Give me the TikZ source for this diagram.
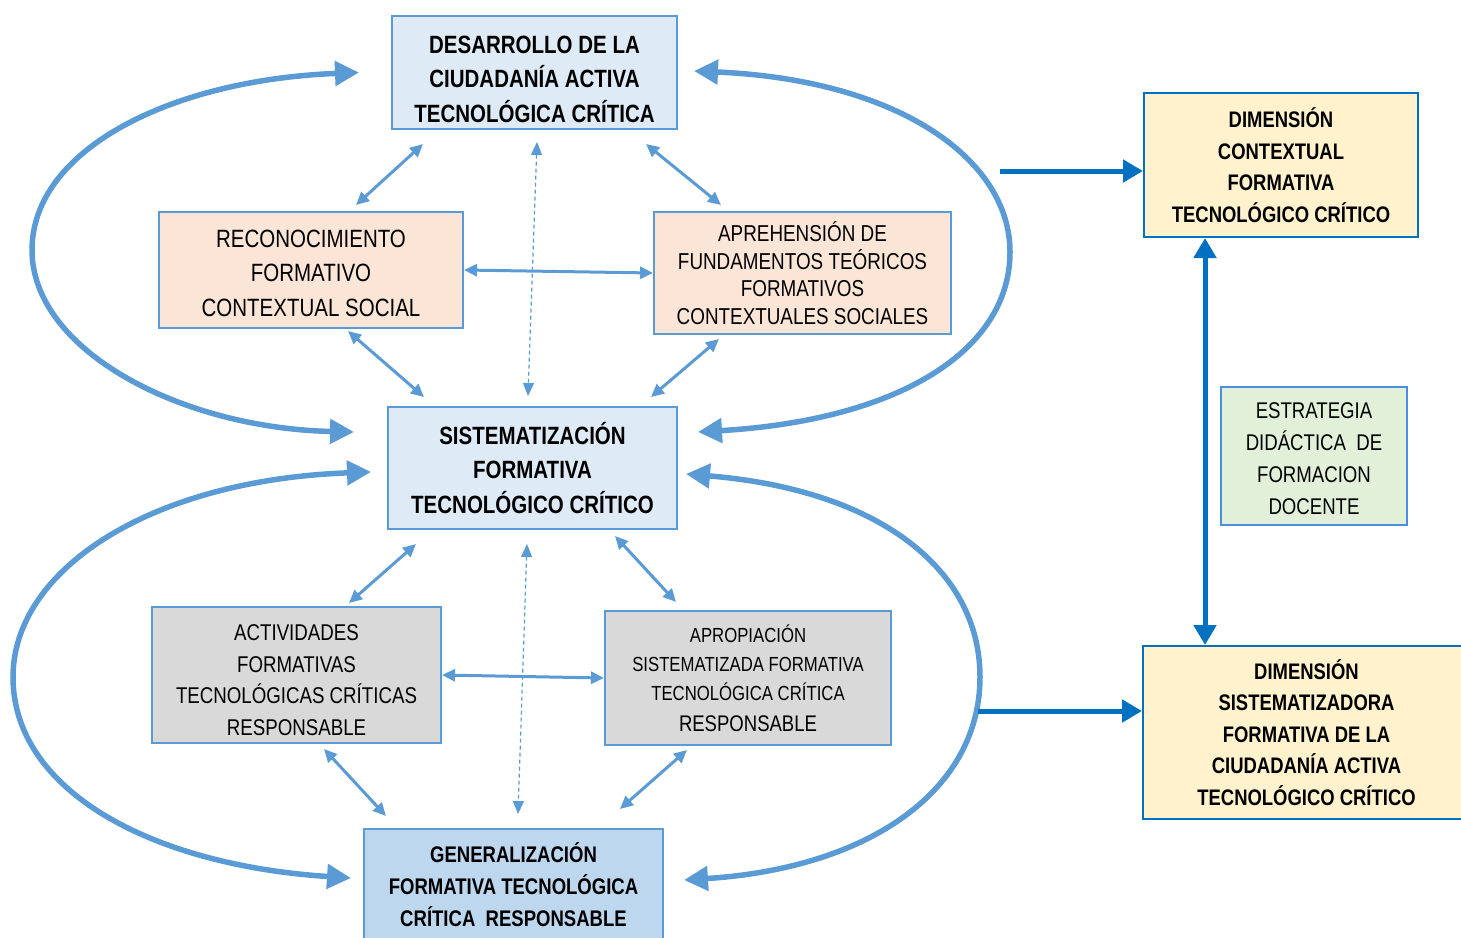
\documentclass[tikz,border=0pt]{standalone}
\usepackage{fontspec}
\newfontfamily\nar[FakeStretch=0.82]{Liberation Sans}
\usetikzlibrary{arrows.meta,calc}
\definecolor{bord}{HTML}{5B9BD5}
\definecolor{dark}{HTML}{0070C0}
\definecolor{lblue}{HTML}{DEEBF7}
\definecolor{mblue}{HTML}{BDD7EE}
\definecolor{peach}{HTML}{FBE5D6}
\definecolor{grayf}{HTML}{D9D9D9}
\definecolor{yel}{HTML}{FFF2CC}
\definecolor{grn}{HTML}{E2F0D9}
\definecolor{gbord}{HTML}{4A8FDB}
\newcommand\fs[2]{\fontsize{#1}{#2}\selectfont}
\tikzset{
  box/.style={draw=bord, line width=2pt, inner sep=0pt, align=center},
  dimbox/.style={draw=dark, line width=2pt, fill=yel, inner sep=0pt, align=center},
  thinarrow/.style={draw=bord, line width=3pt, {Triangle[length=13pt,width=12pt]}-{Triangle[length=13pt,width=12pt]}},
  dashln/.style={draw=bord, line width=1.2pt, dash pattern=on 4pt off 3pt, {Triangle[length=13pt,width=11pt]}-{Triangle[length=13pt,width=11pt]}},
  bigcurve/.style={draw=bord, line width=5.5pt, {Triangle[length=24pt,width=24pt]}-{Triangle[length=24pt,width=24pt]}},
  darkarrow/.style={draw=dark, line width=5pt, -{Triangle[length=20pt,width=22pt]}},
  darkboth/.style={draw=dark, line width=5pt, {Triangle[length=20pt,width=22pt]}-{Triangle[length=20pt,width=22pt]}},
}
\begin{document}
\begin{tikzpicture}[x=1pt,y=-1pt]
\useasboundingbox (0,0) rectangle (1461,937);
\clip (0,0) rectangle (1461,937);

% boxes
\node[box, fill=lblue, font={\nar\bfseries\fs{25}{34.5}}, minimum width=285pt, minimum height=113pt] (top) at (534.5,72.5)
  {\rule{0pt}{31pt}DESARROLLO DE LA\\ CIUDADANÍA ACTIVA\\ TECNOLÓGICA CRÍTICA};
\node[box, fill=peach, font={\nar\fs{25}{34.5}}, minimum width=304pt, minimum height=116pt] (recon) at (311,270)
  {\rule{0pt}{24pt}RECONOCIMIENTO\\ FORMATIVO\\ CONTEXTUAL SOCIAL};
\node[box, fill=peach, font={\nar\fs{23}{27.5}}, minimum width=297pt, minimum height=122pt] (apre) at (802.5,273)
  {APREHENSIÓN DE\\ FUNDAMENTOS TEÓRICOS\\ FORMATIVOS\\ CONTEXTUALES SOCIALES};
\node[box, fill=lblue, font={\nar\bfseries\fs{25}{34.5}}, minimum width=289pt, minimum height=122pt] (sist) at (532.5,468)
  {SISTEMATIZACIÓN\\ FORMATIVA\\ TECNOLÓGICO CRÍTICO};
\node[box, fill=grayf, font={\nar\fs{22.8}{31.7}}, minimum width=289pt, minimum height=136pt] (acti) at (296.5,675)
  {\rule{0pt}{26pt}ACTIVIDADES\\ FORMATIVAS\\ TECNOLÓGICAS CRÍTICAS\\ RESPONSABLE};
\node[box, fill=grayf, font={\nar\fs{20.4}{29}}, minimum width=286pt, minimum height=134pt] (apro) at (748,678)
  {APROPIACIÓN\\ SISTEMATIZADA FORMATIVA\\ TECNOLÓGICA CRÍTICA\\[2pt] {\fs{22.6}{29}RESPONSABLE}};
\node[box, fill=mblue, font={\nar\bfseries\fs{22.6}{32}}, minimum width=299pt, minimum height=112pt] (gen) at (513.5,885)
  {GENERALIZACIÓN\\ FORMATIVA TECNOLÓGICA\\ CRÍTICA\ \ RESPONSABLE};
\node[dimbox, font={\nar\bfseries\fs{22.5}{31.7}}, minimum width=274pt, minimum height=144pt] (dimc) at (1281,165)
  {DIMENSIÓN\\ CONTEXTUAL\\ FORMATIVA\\ TECNOLÓGICO CRÍTICO};
\node[box, draw=gbord, fill=grn, font={\nar\fs{22.7}{32}}, minimum width=186pt, minimum height=138pt] (estr) at (1314,456)
  {\rule{0pt}{22pt}ESTRATEGIA\\ DIDÁCTICA\ \ DE\\ FORMACION\\ DOCENTE};
\node[dimbox, font={\nar\bfseries\fs{22.5}{31.5}}, minimum width=327pt, minimum height=173pt] (dims) at (1306.5,732.5)
  {DIMENSIÓN\\ SISTEMATIZADORA\\ FORMATIVA DE LA\\ CIUDADANÍA ACTIVA\\ TECNOLÓGICO CRÍTICO};

% thin double arrows
\draw[thinarrow] ($(top.south west)+(32,14)$) -- ($(recon.north east)+(-108,-6)$);
\draw[thinarrow] ($(top.south east)+(-32,14)$) -- ($(apre.north west)+(68,-6)$);
\draw[thinarrow] (recon.east) -- (apre.west);
\draw[dashln] ($(top.south)+(2.5,12)$) -- ($(sist.north)+(-4.5,-10)$);
\draw[thinarrow] ($(recon.south east)+(-116,2)$) -- ($(sist.north west)+(37,-9)$);
\draw[thinarrow] ($(apre.south west)+(66,4)$) -- ($(sist.north east)+(-27,-9)$);
\draw[thinarrow] ($(sist.south west)+(29,14)$) -- ($(acti.north east)+(-93,-3)$);
\draw[thinarrow] ($(sist.south east)+(-63,6)$) -- ($(apro.north west)+(72,-8)$);
\draw[dashln] ($(sist.south)+(-5.5,14)$) -- ($(gen.north)+(4.5,-14)$);
\draw[thinarrow] (acti.east) -- (apro.west);
\draw[thinarrow] ($(acti.south west)+(173,5)$) -- ($(gen.north west)+(23,-12)$);
\draw[thinarrow] ($(apro.south west)+(83,4)$) -- ($(gen.north east)+(-44,-19)$);

% big curves
\draw[bigcurve] ($(top.west)+(-32,0)$) .. controls (170,80) and (32,150) .. (32,250)
  .. controls (32,350) and (180,428) .. ($(sist.west)+(-33,-36)$);
\draw[bigcurve] ($(top.east)+(16,-1.5)$) .. controls (900,80) and (1010,160) .. (1010,252)
  .. controls (1010,350) and (900,420) .. ($(sist.east)+(20,-36)$);
\draw[bigcurve] ($(sist.west)+(-16,4)$) .. controls (150,480) and (13,570) .. (13,677)
  .. controls (13,790) and (150,865) .. ($(gen.west)+(-12,-7)$);
\draw[bigcurve] ($(sist.east)+(8,6)$) .. controls (880,490) and (980,570) .. (980,677)
  .. controls (980,790) and (870,868) .. ($(gen.east)+(20,-5)$);

% thick dark arrows
\coordinate (c1) at (1000,171);
\coordinate (c2) at (978,711);
\draw[darkarrow] (c1) -- (c1 -| dimc.west);
\draw[darkarrow] (c2) -- (c2 -| dims.west);
\draw[darkboth] ($(dimc.south west)+(62,0)$) -- ($(dims.north west)+(63,0)$);
\end{tikzpicture}
\end{document}
